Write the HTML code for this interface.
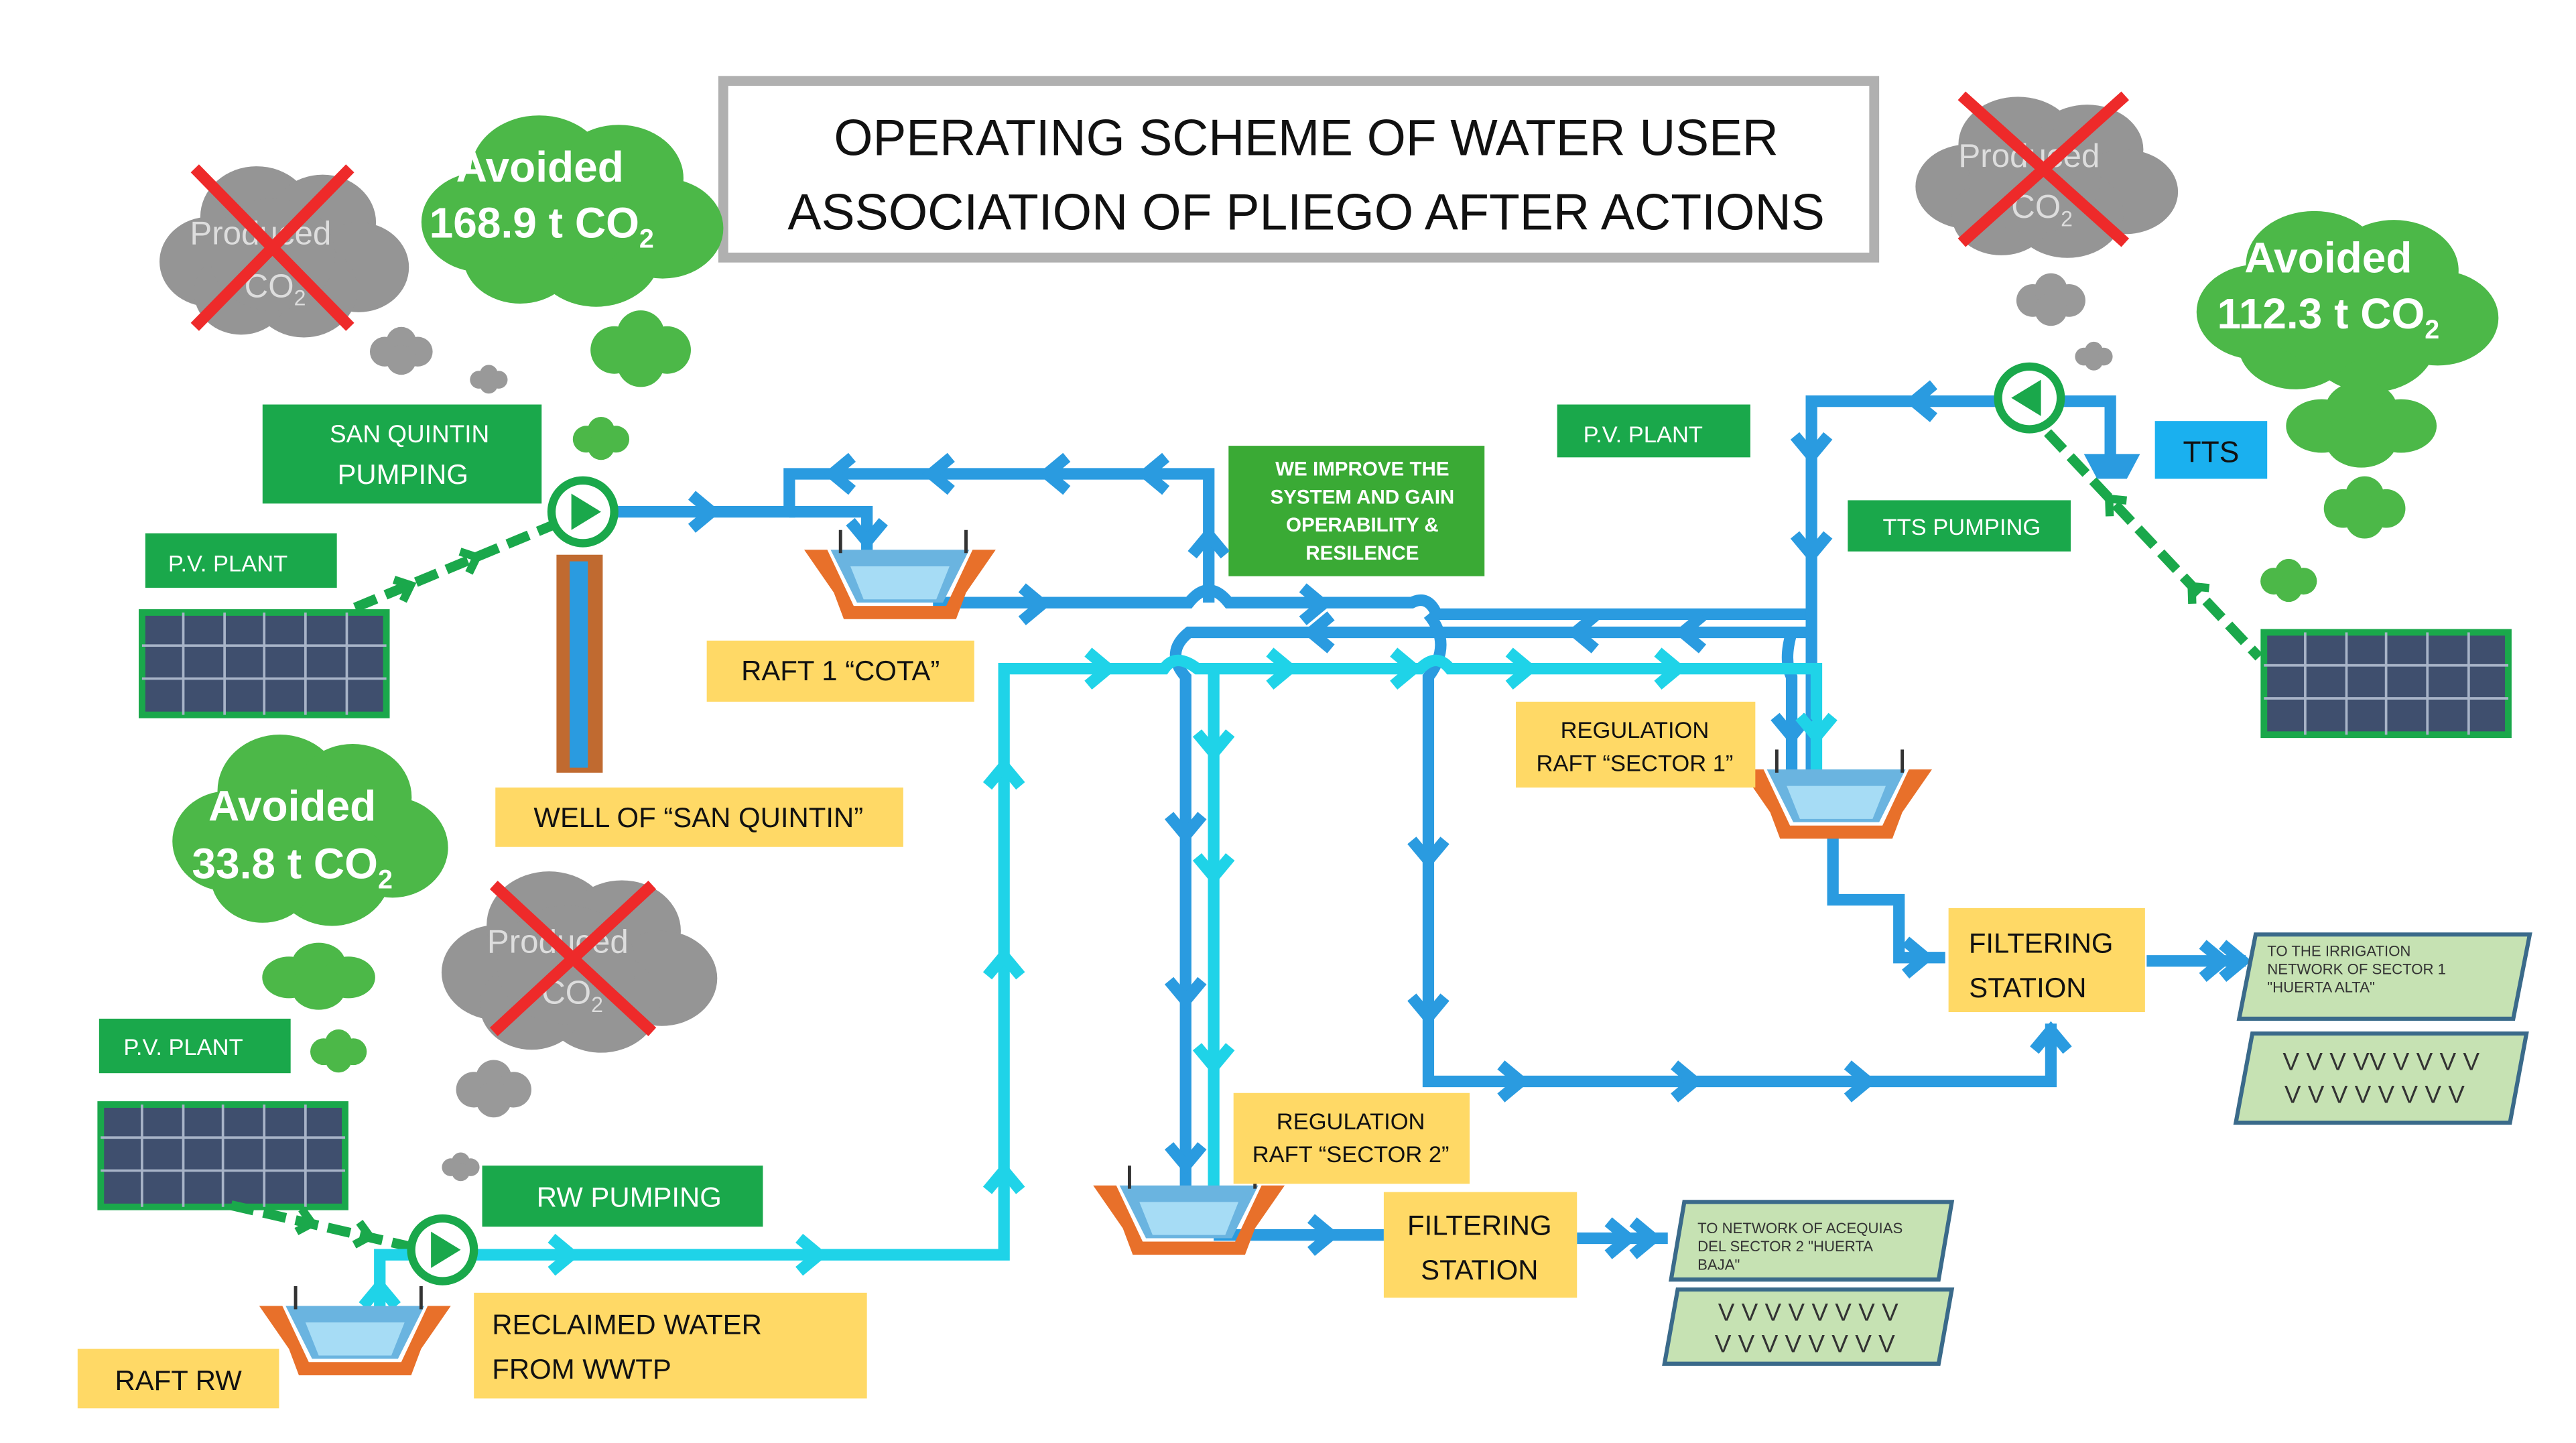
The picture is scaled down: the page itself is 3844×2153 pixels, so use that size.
<!DOCTYPE html>
<html><head><meta charset="utf-8">
<style>
html,body{margin:0;padding:0;background:#fff;}
svg{display:block;}
text{font-family:"Liberation Sans",sans-serif;}
</style></head>
<body>
<svg width="3844" height="2153" viewBox="0 0 1560 874" preserveAspectRatio="none" xmlns="http://www.w3.org/2000/svg">
<defs>
<path id="chB" d="M-6,-10 L6,0 L-6,10" fill="none" stroke="#2a9be0" stroke-width="7"/>
<path id="chC" d="M-6,-10 L6,0 L-6,10" fill="none" stroke="#1fd3e8" stroke-width="7"/>
<path id="chG" d="M-4,-7 L4,0 L-4,7" fill="none" stroke="#1aa84b" stroke-width="5"/>
<g id="raft">
<path d="M-58,-12 L-44,-12 L-28,22 L28,22 L44,-12 L58,-12 L40,14 L34,30 L-34,30 L-40,14Z" fill="#e8702a"/>
<path d="M-42,-12 L42,-12 L26,20 L-26,20Z" fill="#6ab4e0"/>
<path d="M-30,-2 L30,-2 L22,18 L-22,18Z" fill="#a6dcf5"/>
<line x1="-36" y1="-24" x2="-36" y2="-10" stroke="#333" stroke-width="2"/>
<line x1="40" y1="-24" x2="40" y2="-10" stroke="#333" stroke-width="2"/>
</g>
<g id="panel">
<rect x="0" y="0" width="148" height="62" fill="#3f4f6e" stroke="#1aa84b" stroke-width="4"/>
<path d="M0,20H148M0,40H148M25,0V62M50,0V62M74,0V62M99,0V62M124,0V62" stroke="#a8b4c8" stroke-width="1.5"/>
</g>
<g id="gc"><circle cx="-40" cy="10" r="32"/><circle cx="-10" cy="-22" r="36"/><circle cx="32" cy="-18" r="34"/><circle cx="55" cy="14" r="32"/><circle cx="20" cy="30" r="34"/><circle cx="-20" cy="32" r="30"/><circle cx="0" cy="5" r="40"/></g>
<g id="sc"><circle cx="-10" cy="0" r="9"/><circle cx="0" cy="-6" r="9"/><circle cx="10" cy="0" r="9"/><circle cx="0" cy="5" r="9"/></g>
</defs>

<rect x="438" y="49" width="697" height="107" fill="#fff" stroke="#b0b0b0" stroke-width="6"/>
<text x="505" y="94" font-size="31" fill="#111" textLength="572" lengthAdjust="spacingAndGlyphs">OPERATING SCHEME OF WATER USER</text>
<text x="477" y="139" font-size="31" fill="#111" textLength="628" lengthAdjust="spacingAndGlyphs">ASSOCIATION OF PLIEGO AFTER ACTIONS</text>

<g fill="#959595" transform="translate(165,150) scale(0.95,0.85)"><use href="#gc"/></g>
<text x="115" y="148" font-size="20" fill="#ddd">Produced</text>
<text x="148" y="180" font-size="20" fill="#ddd">CO<tspan font-size="13" dy="5">2</tspan></text>
<path d="M118,102 L212,198 M212,102 L118,198" stroke="#ee2a2a" stroke-width="7"/>
<g fill="#4cb848" transform="translate(338,125) scale(1.15,0.95)"><use href="#gc"/></g>
<text x="327" y="110" font-size="26" font-weight="bold" fill="#fff" text-anchor="middle">Avoided</text>
<text x="328" y="144" font-size="26" font-weight="bold" fill="#fff" text-anchor="middle">168.9 t CO<tspan font-size="16" dy="6">2</tspan></text>
<g fill="#999" transform="translate(243,213)"><use href="#sc"/></g>
<g fill="#999" transform="translate(296,230) scale(0.6)"><use href="#sc"/></g>
<g fill="#4cb848" transform="translate(388,212) scale(1.6)"><use href="#sc"/></g>
<g fill="#4cb848" transform="translate(364,266) scale(0.9)"><use href="#sc"/></g>

<g fill="#959595" transform="translate(1232,105) scale(1,0.8)"><use href="#gc"/></g>
<text x="1186" y="101" font-size="20" fill="#ddd">Produced</text>
<text x="1218" y="132" font-size="20" fill="#ddd">CO<tspan font-size="13" dy="5">2</tspan></text>
<path d="M1188,58 L1287,147 M1287,58 L1188,147" stroke="#ee2a2a" stroke-width="7"/>
<g fill="#4cb848" transform="translate(1413,180) scale(1.15,0.9)"><use href="#gc"/></g>
<text x="1410" y="165" font-size="26" font-weight="bold" fill="#fff" text-anchor="middle">Avoided</text>
<text x="1410" y="199" font-size="26" font-weight="bold" fill="#fff" text-anchor="middle">112.3 t CO<tspan font-size="16" dy="6">2</tspan></text>
<g fill="#999" transform="translate(1242,182) scale(1.1)"><use href="#sc"/></g>
<g fill="#999" transform="translate(1268,216) scale(0.6)"><use href="#sc"/></g>
<g fill="#4cb848" transform="translate(1430,258) scale(2.4,1.8)"><use href="#sc"/></g>
<g fill="#4cb848" transform="translate(1432,308) scale(1.3)"><use href="#sc"/></g>
<g fill="#4cb848" transform="translate(1386,352) scale(0.9)"><use href="#sc"/></g>

<g fill="#4cb848" transform="translate(180,500) scale(1.05,0.95)"><use href="#gc"/></g>
<text x="177" y="497" font-size="26" font-weight="bold" fill="#fff" text-anchor="middle">Avoided</text>
<text x="177" y="532" font-size="26" font-weight="bold" fill="#fff" text-anchor="middle">33.8 t CO<tspan font-size="16" dy="6">2</tspan></text>
<g fill="#959595" transform="translate(343,580) scale(1.05,0.9)"><use href="#gc"/></g>
<text x="295" y="577" font-size="20" fill="#ddd">Produced</text>
<text x="328" y="608" font-size="20" fill="#ddd">CO<tspan font-size="13" dy="5">2</tspan></text>
<path d="M299,536 L395,625 M395,536 L299,625" stroke="#ee2a2a" stroke-width="7"/>
<g fill="#4cb848" transform="translate(193,592) scale(1.8,1.4)"><use href="#sc"/></g>
<g fill="#4cb848" transform="translate(205,637) scale(0.9)"><use href="#sc"/></g>
<g fill="#999" transform="translate(299,660) scale(1.2)"><use href="#sc"/></g>
<g fill="#999" transform="translate(279,707) scale(0.6)"><use href="#sc"/></g>

<rect x="159" y="245" width="169" height="60" fill="#1aa84b"/>
<text x="248" y="268" font-size="15" fill="#fff" text-anchor="middle">SAN QUINTIN</text>
<text x="244" y="293" font-size="17" fill="#fff" text-anchor="middle">PUMPING</text>
<rect x="88" y="323" width="116" height="33" fill="#1aa84b"/>
<text x="138" y="346" font-size="14" fill="#fff" text-anchor="middle">P.V. PLANT</text>
<rect x="943" y="245" width="117" height="32" fill="#1aa84b"/>
<text x="995" y="268" font-size="14" fill="#fff" text-anchor="middle">P.V. PLANT</text>
<rect x="1119" y="303" width="135" height="31" fill="#1aa84b"/>
<text x="1188" y="324" font-size="14" fill="#fff" text-anchor="middle">TTS PUMPING</text>
<rect x="60" y="617" width="116" height="33" fill="#1aa84b"/>
<text x="111" y="639" font-size="14" fill="#fff" text-anchor="middle">P.V. PLANT</text>
<rect x="292" y="706" width="170" height="37" fill="#1aa84b"/>
<text x="381" y="731" font-size="17" fill="#fff" text-anchor="middle">RW  PUMPING</text>
<rect x="744" y="270" width="155" height="79" fill="#3aaa35"/>
<g font-size="12" font-weight="bold" fill="#fff" text-anchor="middle">
<text x="825" y="288">WE IMPROVE THE</text><text x="825" y="305">SYSTEM AND GAIN</text>
<text x="825" y="322">OPERABILITY &amp;</text><text x="825" y="339">RESILENCE</text></g>
<rect x="1305" y="255" width="68" height="35" fill="#1ab0ef"/>
<text x="1339" y="280" font-size="18" fill="#111" text-anchor="middle">TTS</text>

<use href="#panel" transform="translate(86,371)"/>
<use href="#panel" transform="translate(1371,383)"/>
<use href="#panel" transform="translate(61,669)"/>

<path d="M215,368 L335,318" stroke="#1aa84b" stroke-width="6" stroke-dasharray="14,6"/>
<use href="#chG" transform="translate(245,356) rotate(-23)"/><use href="#chG" transform="translate(285,339) rotate(-23)"/>
<path d="M1240,262 L1368,398" stroke="#1aa84b" stroke-width="6" stroke-dasharray="14,6"/>
<use href="#chG" transform="translate(1280,305) rotate(-133)"/><use href="#chG" transform="translate(1330,358) rotate(-133)"/>
<path d="M140,730 L248,755" stroke="#1aa84b" stroke-width="6" stroke-dasharray="14,6"/>
<use href="#chG" transform="translate(185,740) rotate(13)"/><use href="#chG" transform="translate(220,748) rotate(13)"/>

<rect x="337" y="336" width="28" height="132" fill="#c06a30"/>
<rect x="345" y="340" width="11" height="125" fill="#2a9be0"/>

<g fill="none" stroke="#2a9be0" stroke-width="7">
<path d="M373,310 H478 V287 H732 V365"/>
<path d="M478,310 H525 V335"/>
<path d="M565,365 H720 Q732,350 744,365 H855 Q865,360 870,372 H1097"/>
<path d="M1097,383 H720 Q705,395 718,410 V735"/>
<path d="M865,372 Q880,390 865,410 V655 H1242 V620"/>
<path d="M1210,243 H1097 V470"/>
<path d="M1248,243 H1278 V280"/>
<path d="M1085,383 Q1080,400 1085,410 V470"/>
<path d="M1110,505 V545 H1150 V580 H1178"/>
<path d="M1300,582 H1360"/>
<path d="M735,748 H838"/>
<path d="M955,750 H1010"/>
</g>
<g fill="none" stroke="#1fd3e8" stroke-width="7">
<path d="M230,800 V760 H608 V405 H705 Q712,395 725,405 H860 Q870,395 878,405 H1100 V470"/>
<path d="M735,405 V720"/>
</g>
<use href="#chB" transform="translate(425,310)"/>
<use href="#chB" transform="translate(510,287) rotate(180)"/><use href="#chB" transform="translate(570,287) rotate(180)"/>
<use href="#chB" transform="translate(640,287) rotate(180)"/><use href="#chB" transform="translate(700,287) rotate(180)"/>
<use href="#chB" transform="translate(732,330) rotate(-90)"/>
<use href="#chB" transform="translate(525,322) rotate(90)"/>
<use href="#chB" transform="translate(625,366)"/><use href="#chB" transform="translate(795,366)"/>
<use href="#chB" transform="translate(800,383) rotate(180)"/><use href="#chB" transform="translate(960,383) rotate(180)"/><use href="#chB" transform="translate(1025,383) rotate(180)"/>
<use href="#chB" transform="translate(718,500) rotate(90)"/><use href="#chB" transform="translate(718,600) rotate(90)"/><use href="#chB" transform="translate(718,700) rotate(90)"/>
<use href="#chB" transform="translate(865,515) rotate(90)"/><use href="#chB" transform="translate(865,610) rotate(90)"/>
<use href="#chB" transform="translate(915,655)"/><use href="#chB" transform="translate(1020,655)"/><use href="#chB" transform="translate(1125,655)"/>
<use href="#chB" transform="translate(1242,630) rotate(-90)"/>
<use href="#chB" transform="translate(1165,243) rotate(180)"/>
<use href="#chB" transform="translate(1097,270) rotate(90)"/><use href="#chB" transform="translate(1097,330) rotate(90)"/><use href="#chB" transform="translate(1085,440) rotate(90)"/>
<use href="#chB" transform="translate(1160,580)"/>
<use href="#chB" transform="translate(1340,582)"/><use href="#chB" transform="translate(1352,582)"/>
<use href="#chB" transform="translate(800,748)"/>
<use href="#chB" transform="translate(980,750)"/><use href="#chB" transform="translate(995,750)"/>
<use href="#chC" transform="translate(340,760)"/><use href="#chC" transform="translate(490,760)"/>
<use href="#chC" transform="translate(608,470) rotate(-90)"/><use href="#chC" transform="translate(608,585) rotate(-90)"/><use href="#chC" transform="translate(608,715) rotate(-90)"/>
<use href="#chC" transform="translate(665,405)"/><use href="#chC" transform="translate(775,405)"/><use href="#chC" transform="translate(850,405)"/><use href="#chC" transform="translate(920,405)"/><use href="#chC" transform="translate(1010,405)"/>
<use href="#chC" transform="translate(735,450) rotate(90)"/><use href="#chC" transform="translate(735,525) rotate(90)"/><use href="#chC" transform="translate(735,640) rotate(90)"/>
<use href="#chC" transform="translate(230,785) rotate(-90)"/>
<use href="#chC" transform="translate(1100,440) rotate(90)"/>

<circle cx="353" cy="310" r="19" fill="#fff" stroke="#1aa84b" stroke-width="5"/>
<path d="M346,299 L364,310 L346,321Z" fill="#1aa84b"/>
<circle cx="268" cy="757" r="19" fill="#fff" stroke="#1aa84b" stroke-width="5"/>
<path d="M261,746 L279,757 L261,768Z" fill="#1aa84b"/>
<circle cx="1229" cy="241" r="19" fill="#fff" stroke="#1aa84b" stroke-width="5"/>
<path d="M1236,230 L1218,241 L1236,252Z" fill="#1aa84b"/>
<path d="M1262,275 L1296,275 L1288,290 L1270,290Z" fill="#2a9be0"/>

<use href="#raft" transform="translate(545,345)"/>
<use href="#raft" transform="translate(1112,478)"/>
<use href="#raft" transform="translate(720,730)"/>
<use href="#raft" transform="translate(215,803)"/>

<g fill="#ffd966">
<rect x="428" y="388" width="162" height="37"/>
<rect x="300" y="477" width="247" height="36"/>
<rect x="918" y="425" width="145" height="52"/>
<rect x="1180" y="550" width="119" height="63"/>
<rect x="747" y="662" width="143" height="55"/>
<rect x="838" y="722" width="117" height="64"/>
<rect x="287" y="783" width="238" height="64"/>
<rect x="47" y="817" width="122" height="36"/>
</g>
<g fill="#111" font-size="17">
<text x="509" y="412" text-anchor="middle">RAFT 1 “COTA”</text>
<text x="423" y="501" text-anchor="middle">WELL OF “SAN QUINTIN”</text>
<text x="990" y="447" text-anchor="middle" font-size="14">REGULATION</text>
<text x="990" y="467" text-anchor="middle" font-size="14">RAFT “SECTOR 1”</text>
<text x="1236" y="577" text-anchor="middle">FILTERING</text>
<text x="1228" y="604" text-anchor="middle">STATION</text>
<text x="818" y="684" text-anchor="middle" font-size="14">REGULATION</text>
<text x="818" y="704" text-anchor="middle" font-size="14">RAFT “SECTOR 2”</text>
<text x="896" y="748" text-anchor="middle">FILTERING</text>
<text x="896" y="775" text-anchor="middle">STATION</text>
<text x="298" y="808">RECLAIMED WATER</text>
<text x="298" y="835">FROM WWTP</text>
<text x="108" y="842" text-anchor="middle">RAFT RW</text>
</g>

<g fill="#c6e2b3" stroke="#3a6a8a" stroke-width="2.5">
<path d="M1366,566 L1532,566 L1522,617 L1356,617Z"/>
<path d="M1364,626 L1530,626 L1520,680 L1354,680Z"/>
<path d="M1020,728 L1182,728 L1174,775 L1012,775Z"/>
<path d="M1016,781 L1182,781 L1174,826 L1008,826Z"/>
</g>
<g fill="#333" font-size="9">
<text x="1373" y="579">TO THE IRRIGATION</text><text x="1373" y="590">NETWORK OF SECTOR 1</text><text x="1373" y="601">"HUERTA ALTA"</text>
<text x="1028" y="747">TO NETWORK OF ACEQUIAS</text><text x="1028" y="758">DEL SECTOR 2 "HUERTA</text><text x="1028" y="769">BAJA"</text>
</g>
<g fill="#333" font-size="15" text-anchor="middle">
<text x="1442" y="648">V V V VV V V V V</text><text x="1438" y="668">V  V V V V V  V V</text>
<text x="1095" y="800">V V V V V V V V</text><text x="1093" y="819">V  V V V V V  V V</text>
</g>
</svg>
</body></html>
